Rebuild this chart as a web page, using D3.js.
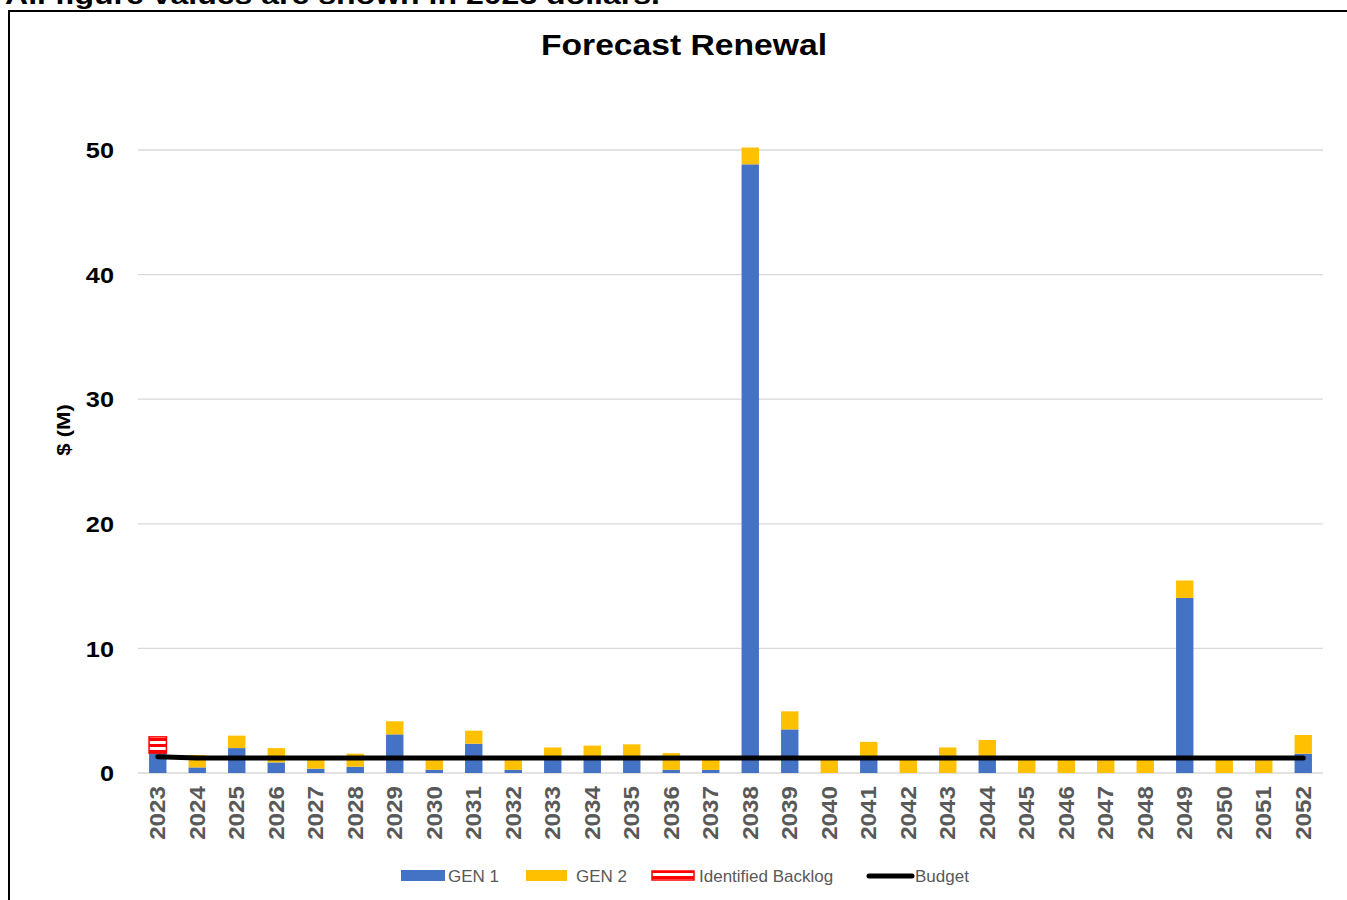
<!DOCTYPE html>
<html><head><meta charset="utf-8">
<script src="https://cdn.jsdelivr.net/npm/d3@7"></script>
<style>body{margin:0;background:#fff;} svg{display:block;}</style>
</head><body>
<script>
const years = ["2023","2024","2025","2026","2027","2028","2029","2030","2031","2032","2033","2034","2035","2036","2037","2038","2039","2040","2041","2042","2043","2044","2045","2046","2047","2048","2049","2050","2051","2052"];
const gen1 =    [1.6,0.45,2.0,0.85,0.35,0.5,3.1,0.25,2.35,0.25,1.2,1.2,1.2,0.25,0.25,48.85,3.5,0,1.2,0,0,1.2,0,0,0,0,14.05,0,0,1.55];
const gen2 =    [0,1.0,1.0,1.15,0.95,1.05,1.05,1.05,1.05,1.0,0.85,1.0,1.1,1.35,1.0,1.35,1.45,1.2,1.3,1.2,2.05,1.45,1.2,1.2,1.2,1.2,1.4,1.2,1.2,1.5];
const backlog = [1.3,0,0,0,0,0,0,0,0,0,0,0,0,0,0,0,0,0,0,0,0,0,0,0,0,0,0,0,0,0];
const budget =  [1.3,1.2,1.2,1.2,1.2,1.2,1.2,1.2,1.2,1.2,1.2,1.2,1.2,1.2,1.2,1.2,1.2,1.2,1.2,1.2,1.2,1.2,1.2,1.2,1.2,1.2,1.2,1.2,1.2,1.2];
const yTicks = [0,10,20,30,40,50];
const seriesNames = ["GEN 1","GEN 2","Identified Backlog","Budget"];

const W=1347,H=900;
const svg=d3.select("body").append("svg").attr("width",W).attr("height",H);
const defs=svg.append("defs");
const pat=defs.append("pattern").attr("id","hatch").attr("patternUnits","userSpaceOnUse").attr("width",6).attr("height",6);
pat.append("rect").attr("width",6).attr("height",6).attr("fill","#fff");
pat.append("rect").attr("width",6).attr("height",3).attr("fill","#ff0000");

function stretch(sel,f){ sel.each(function(){ const l=this.getComputedTextLength(); d3.select(this).attr("textLength",l*f).attr("lengthAdjust","spacingAndGlyphs"); }); }

// header note (cut off at the top)
svg.append("text").attr("x",5).attr("y",4).attr("font-family","Liberation Sans, Arial").attr("font-weight","bold").attr("font-size",26).attr("fill","#000")
  .attr("textLength",655).attr("lengthAdjust","spacingAndGlyphs").text("All figure values are shown in 2023 dollars.");
svg.append("rect").attr("x",9).attr("y",11).attr("width",1345).attr("height",905).attr("fill","none").attr("stroke","#000").attr("stroke-width",2);

const x=d3.scaleBand().domain(years).range([138,1323]).paddingInner(0.56).paddingOuter(0.28);
const y=d3.scaleLinear().domain([0,50]).range([773,150]);

// grid
svg.append("g").selectAll("line").data(yTicks).join("line").attr("x1",138).attr("x2",1323).attr("y1",d=>y(d)).attr("y2",d=>y(d)).attr("stroke","#d9d9d9").attr("stroke-width",1.3);

const ya=svg.append("g").attr("transform","translate(114,0)").call(d3.axisLeft(y).tickValues(yTicks).tickSize(0).tickPadding(0));
ya.select(".domain").remove();
ya.selectAll("text").attr("font-family","Liberation Sans, Arial").attr("font-weight","bold").attr("font-size",22).attr("fill","#000").attr("dy","0.35em");
stretch(ya.selectAll("text"),1.15);

const xa=svg.append("g").attr("transform","translate(0,786)").call(d3.axisBottom(x).tickSize(0).tickPadding(0));
xa.select(".domain").remove();
xa.selectAll("text").attr("font-family","Liberation Sans, Arial").attr("font-weight","bold").attr("font-size",22).attr("fill","#595959")
  .attr("transform","rotate(-90)").attr("text-anchor","end").attr("dy","0.35em").attr("x",0).attr("y",0);
stretch(xa.selectAll("text"),1.1);

// stacked bars
const rows=years.map((yr,i)=>({year:yr,gen1:gen1[i],gen2:gen2[i],backlog:backlog[i]}));
const stack=d3.stack().keys(["gen1","gen2","backlog"])(rows);
const fills={gen1:"#4472c4",gen2:"#ffc000",backlog:"url(#hatch)"};
stack.forEach(s=>{
  svg.append("g").selectAll("rect").data(s.filter(d=>d[1]-d[0]>0)).join("rect")
    .attr("x",d=>x(d.data.year)).attr("width",x.bandwidth())
    .attr("y",d=>y(d[1])).attr("height",d=>y(d[0])-y(d[1]))
    .attr("fill",fills[s.key])
    .attr("stroke",s.key==="backlog"?"#ff0000":"none").attr("stroke-width",1.5);
});

// budget line
const line=d3.line().x((d,i)=>x(years[i])+x.bandwidth()/2).y(d=>y(d));
svg.append("path").attr("d",line(budget)).attr("fill","none").attr("stroke","#000").attr("stroke-width",5).attr("stroke-linecap","round").attr("stroke-linejoin","round");

// title & axis label
const t=svg.append("text").attr("x",684).attr("y",55).attr("text-anchor","middle").attr("font-family","Liberation Sans, Arial").attr("font-weight","bold").attr("font-size",29).text("Forecast Renewal");
stretch(t,1.16);
const yl=svg.append("text").attr("transform","translate(70,430) rotate(-90)").attr("text-anchor","middle").attr("font-family","Liberation Sans, Arial").attr("font-weight","bold").attr("font-size",19).text("$ (M)");
stretch(yl,1.16);

// legend
const lg=svg.append("g").attr("font-family","Liberation Sans, Arial").attr("font-size",17).attr("fill","#595959");
lg.append("rect").attr("x",401).attr("y",870).attr("width",44).attr("height",11).attr("fill","#4472c4");
lg.append("text").attr("x",448).attr("y",882).text(seriesNames[0]);
lg.append("rect").attr("x",526).attr("y",870).attr("width",41).attr("height",11).attr("fill","#ffc000");
lg.append("text").attr("x",576).attr("y",882).text(seriesNames[1]);
lg.append("rect").attr("x",652).attr("y",871).attr("width",42).attr("height",9).attr("fill","url(#hatch)").attr("stroke","#ff0000").attr("stroke-width",1.5);
lg.append("text").attr("x",699).attr("y",882).text(seriesNames[2]);
lg.append("line").attr("x1",869).attr("x2",912).attr("y1",876).attr("y2",876).attr("stroke","#000").attr("stroke-width",5).attr("stroke-linecap","round");
lg.append("text").attr("x",915).attr("y",882).text(seriesNames[3]);
</script>
</body></html>
